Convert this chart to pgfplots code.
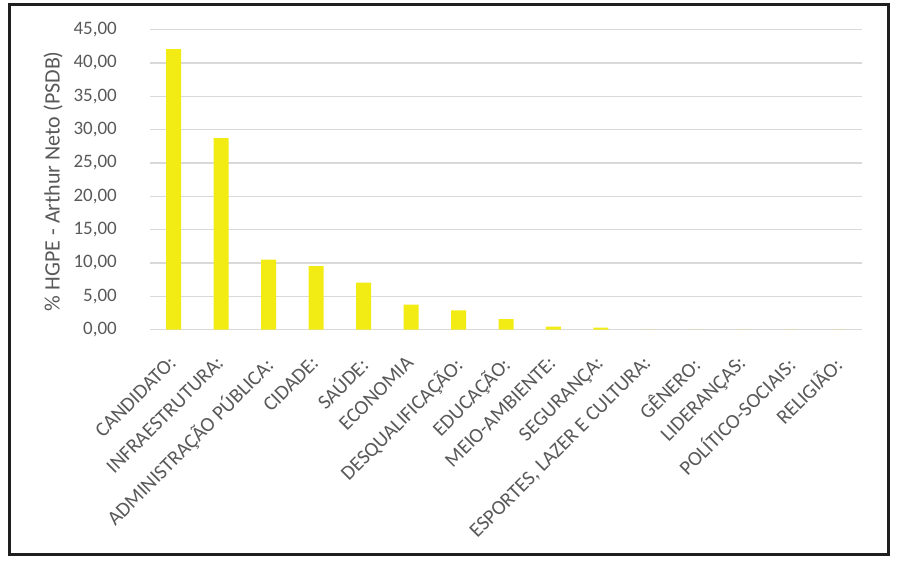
\documentclass[border=0pt]{standalone}
\usepackage{fontspec}
\setmainfont{Carlito}
\usepackage{pgfplots}
\pgfplotsset{compat=1.18}
\definecolor{barY}{RGB}{242,236,20}
\definecolor{txt}{RGB}{89,89,89}
\definecolor{grd}{RGB}{217,217,217}
\begin{document}
\begin{tikzpicture}
\useasboundingbox (0,0) rectangle (899bp,562bp);
\fill[white] (0,0) rectangle (899bp,562bp);
\begin{axis}[
    at={(150bp,232.3bp)},
    anchor=south west,
    scale only axis,
    width=712bp,
    height=300bp,
    ymin=0, ymax=45,
    ytick={0,5,...,45},
    xmin=-0.5, xmax=14.5,
    xtick={0,...,14},
    xticklabels={CANDIDATO:,INFRAESTRUTURA:,ADMINISTRAÇÃO PÚBLICA:,CIDADE:,SAÚDE:,ECONOMIA,DESQUALIFICAÇÃO:,EDUCAÇÃO:,MEIO-AMBIENTE:,SEGURANÇA:,{ESPORTES, LAZER E CULTURA:},GÊNERO:,LIDERANÇAS:,POLÍTICO-SOCIAIS:,RELIGIÃO:},
    axis line style={draw=none},
    major tick length=0pt,
    ymajorgrids=true,
    grid style={grd, line width=1.4bp},
    /pgf/number format/use comma,
    /pgf/number format/fixed,
    /pgf/number format/fixed zerofill,
    /pgf/number format/precision=2,
    /pgf/number format/assume math mode=true,
    yticklabel style={font=\fontsize{19bp}{22bp}\selectfont, text=txt, anchor=east, inner sep=0pt, xshift=-33bp},
    xticklabel style={font=\fontsize{20.5bp}{24bp}\selectfont, text=txt, inner sep=0pt, xshift=-6bp, yshift=-25bp, rotate=45, anchor=north east},
    ylabel={\% HGPE - Arthur Neto (PSDB)},
    ylabel style={font=\fontsize{22bp}{26bp}\selectfont, text=txt, at={(axis description cs:-0.1362,0.495)}, anchor=center},
]
\addplot[ybar, bar width=15bp, fill=barY, draw=none] coordinates {
    (0,42.1) (1,28.75) (2,10.5) (3,9.55) (4,7.05) (5,3.75) (6,2.9) (7,1.6) (8,0.45) (9,0.3)
    (10,0) (11,0) (12,0) (13,0) (14,0)
};
\end{axis}
\draw[line width=3bp, black!88] (9bp,7bp) rectangle (888.5bp,557bp);
\end{tikzpicture}
\end{document}
